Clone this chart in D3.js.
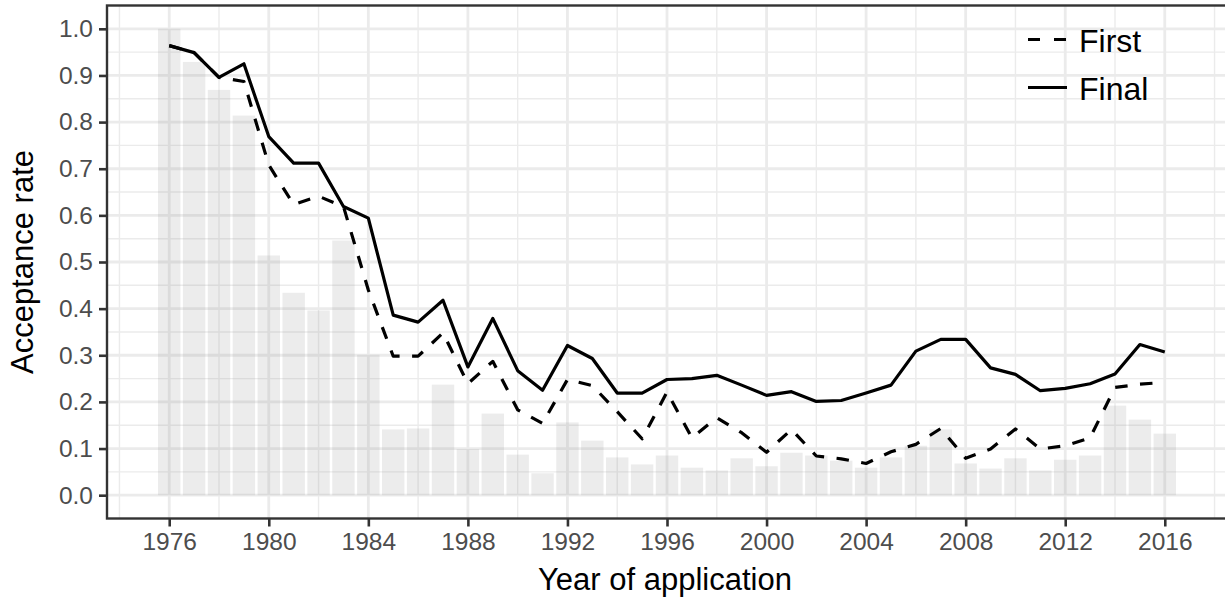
<!DOCTYPE html>
<html>
<head>
<meta charset="utf-8">
<script src="https://cdn.jsdelivr.net/npm/d3@7"></script>
<style>
  body { margin: 0; background: #fff; }
  svg { display: block; font-family: "Liberation Sans", Arial, sans-serif; }
</style>
</head>
<body>
<script>
'use strict';
const years = d3.range(1976, 2017)
// grey bars
const barShare = [1.000, 0.929, 0.869, 0.814, 0.514, 0.434, 0.396, 0.546, 0.301, 0.141,
    0.143, 0.237, 0.099, 0.175, 0.087, 0.047, 0.156, 0.117, 0.081, 0.066,
    0.085, 0.059, 0.053, 0.079, 0.062, 0.091, 0.085, 0.074, 0.059, 0.081,
    0.106, 0.141, 0.068, 0.057, 0.079, 0.053, 0.076, 0.085, 0.192, 0.162, 0.132]
const firstRate = [0.964, 0.949, 0.896, 0.887, 0.708, 0.623, 0.641, 0.619, 0.440, 0.298,
    0.298, 0.348, 0.239, 0.287, 0.183, 0.154, 0.248, 0.235, 0.179, 0.121,
    0.221, 0.123, 0.166, 0.134, 0.092, 0.141, 0.084, 0.078, 0.068, 0.093,
    0.109, 0.143, 0.079, 0.099, 0.142, 0.099, 0.106, 0.123, 0.231, 0.238, 0.242]
const finalRate = [0.964, 0.949, 0.896, 0.925, 0.769, 0.712, 0.712, 0.619, 0.594, 0.386,
    0.371, 0.418, 0.275, 0.379, 0.267, 0.225, 0.321, 0.293, 0.219, 0.219,
    0.248, 0.250, 0.257, 0.236, 0.214, 0.222, 0.201, 0.203, 0.219, 0.236,
    0.309, 0.334, 0.334, 0.273, 0.259, 0.224, 0.229, 0.239, 0.260, 0.323, 0.307]
const xTicks = d3.range(1976, 2017, 4)
const yTicks = d3.range(0, 11).map(d => d / 10)
const legendLabels = ["First", "Final"]

const width = 1225, height = 599
const pLeft = 107, pTop = 5.5, pRight = 1227, pBottom = 518.5

const svg = d3.select('body').append('svg')
    .attr('width', width).attr('height', height)

const x = d3.scaleLinear().domain([1973.5, 2018.5]).range([pLeft, pRight])
const y = d3.scaleLinear().domain([-0.05, 1.05]).range([pBottom, pTop])

svg.append('defs').append('clipPath').attr('id', 'panel')
    .append('rect').attr('x', pLeft).attr('y', pTop)
    .attr('width', pRight - pLeft).attr('height', pBottom - pTop)

const panel = svg.append('g').attr('clip-path', 'url(#panel)')

// minor grid
const xMinor = d3.range(1974, 2019, 4)
const yMinor = d3.range(0, 11).map(d => d / 10 + 0.05)
panel.append('g').selectAll('line').data(xMinor).enter().append('line')
    .attr('x1', d => x(d)).attr('x2', d => x(d)).attr('y1', pTop).attr('y2', pBottom)
    .attr('stroke', '#ebebeb').attr('stroke-width', 1.4)
panel.append('g').selectAll('line').data(yMinor).enter().append('line')
    .attr('x1', pLeft).attr('x2', pRight).attr('y1', d => y(d)).attr('y2', d => y(d))
    .attr('stroke', '#ebebeb').attr('stroke-width', 1.4)
// major grid
panel.append('g').selectAll('line').data(xTicks).enter().append('line')
    .attr('x1', d => x(d)).attr('x2', d => x(d)).attr('y1', pTop).attr('y2', pBottom)
    .attr('stroke', '#ebebeb').attr('stroke-width', 2.8)
panel.append('g').selectAll('line').data(yTicks).enter().append('line')
    .attr('x1', pLeft).attr('x2', pRight).attr('y1', d => y(d)).attr('y2', d => y(d))
    .attr('stroke', '#ebebeb').attr('stroke-width', 2.8)

// bars
const bw = x(1.9) - x(1)
panel.append('g').selectAll('rect').data(years).enter().append('rect')
    .attr('x', d => x(d) - bw / 2)
    .attr('width', bw)
    .attr('y', (d, i) => y(barShare[i]))
    .attr('height', (d, i) => y(0) - y(barShare[i]))
    .attr('fill', '#7f7f7f').attr('fill-opacity', 0.15)

// lines
const line = d3.line().x(d => x(d[0])).y(d => y(d[1]))
const series = [
    {name: legendLabels[0], values: firstRate, dash: '12.5,12.5'},
    {name: legendLabels[1], values: finalRate, dash: null}
]
series.forEach(function(s){
    panel.append('path')
        .datum(years.map((yr, i) => [yr, s.values[i]]))
        .attr('d', line)
        .attr('fill', 'none').attr('stroke', '#000').attr('stroke-width', 3.2)
        .attr('stroke-linejoin', 'round')
        .attr('stroke-dasharray', s.dash)
})

// border
svg.append('rect').attr('x', pLeft).attr('y', pTop)
    .attr('width', pRight - pLeft).attr('height', pBottom - pTop)
    .attr('fill', 'none').attr('stroke', '#333333').attr('stroke-width', 2.4)

// axes
const xAxis = svg.append('g').attr('transform', `translate(0,${pBottom})`)
    .call(d3.axisBottom(x).tickValues(xTicks).tickFormat(d3.format('d')).tickSize(8).tickPadding(6))
const yAxis = svg.append('g').attr('transform', `translate(${pLeft},0)`)
    .call(d3.axisLeft(y).tickValues(yTicks).tickFormat(d3.format('.1f')).tickSize(8).tickPadding(6))
;[xAxis, yAxis].forEach(function(a){
    a.select('.domain').remove()
    a.selectAll('.tick line').attr('stroke', '#333333').attr('stroke-width', 2.6)
    a.selectAll('.tick text').attr('fill', '#4d4d4d')
        .style('font-size', '24.5px').style('font-family', '"Liberation Sans", Arial, sans-serif')
})

svg.append('text')
    .attr('x', (pLeft + pRight) / 2 - 2).attr('y', 590)
    .attr('text-anchor', 'middle')
    .style('font-size', '31px')
    .text('Year of application')
svg.append('text')
    .attr('transform', `translate(33,${(pTop + pBottom) / 2}) rotate(-90)`)
    .attr('text-anchor', 'middle')
    .style('font-size', '31px')
    .text('Acceptance rate')

// legend
const legend = svg.append('g')
series.forEach(function(s, i){
    const ly = 39.5 + i * 48
    legend.append('line')
        .attr('x1', 1028).attr('x2', 1067).attr('y1', ly).attr('y2', ly)
        .attr('stroke', '#000').attr('stroke-width', 3.2)
        .attr('stroke-dasharray', s.dash ? '12,14' : null)
    legend.append('text')
        .attr('x', 1079).attr('y', ly + 12)
        .style('font-size', '32px')
        .text(s.name)
})
</script>
</body>
</html>
